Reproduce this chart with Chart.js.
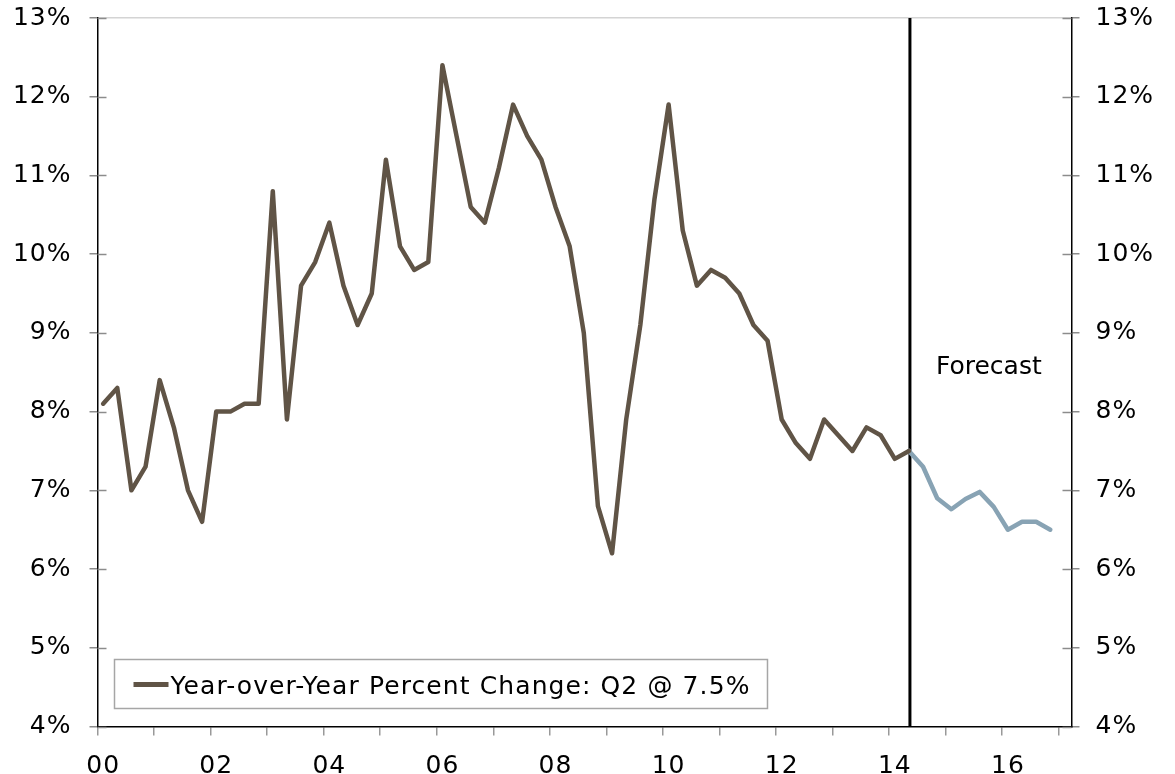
<!DOCTYPE html>
<html>
<head>
<meta charset="utf-8">
<script src="https://cdn.jsdelivr.net/npm/chart.js@4.4.0/dist/chart.umd.min.js"></script>
<style>
  html, body { margin: 0; padding: 0; background: #fff; }
  #wrap { width: 1175px; height: 774px; position: relative; }
</style>
</head>
<body>
<div id="wrap"><canvas id="yoyChart"></canvas></div>
<script>
// quarterly, 2000 Q1 .. 2014 Q2 actual, 2014 Q3 .. 2016 Q4 forecast
const actualValues = [
    8.1, 8.3, 7.0, 7.3, 8.4, 7.8, 7.0, 6.6, 8.0, 8.0, 8.1, 8.1,
    10.8, 7.9, 9.6, 9.9, 10.4, 9.6, 9.1, 9.5, 11.2, 10.1, 9.8, 9.9,
    12.4, 11.5, 10.6, 10.4, 11.1, 11.9, 11.5, 11.2, 10.6, 10.1, 9.0, 6.8,
    6.2, 7.9, 9.1, 10.7, 11.9, 10.3, 9.6, 9.8, 9.7, 9.5, 9.1, 8.9,
    7.9, 7.6, 7.4, 7.9, 7.7, 7.5, 7.8, 7.7, 7.4, 7.5
];
const forecastValues = [7.3, 6.9, 6.76, 6.89, 6.98, 6.79, 6.5, 6.6, 6.6, 6.5];
const yearLabels = ['00', '02', '04', '06', '08', '10', '12', '14', '16'];
const yTickValues = [4, 5, 6, 7, 8, 9, 10, 11, 12, 13];
const legendText = 'Year-over-Year Percent Change: Q2 @ 7.5%';
const forecastText = 'Forecast';

const brown = '#605446';
const blue = '#88a3b4';
const FONT = "'DejaVu Sans', Verdana, sans-serif";

const lastActual = actualValues.length - 1;
const actualPoints = actualValues.map((v, i) => ({ x: i, y: v }));
const forecastPoints = [{ x: lastActual, y: actualValues[lastActual] }]
    .concat(forecastValues.map((v, i) => ({ x: lastActual + 1 + i, y: v })));

// label under Q1 of every second year, tick marks at the year boundaries
const labelAt = {};
yearLabels.forEach((lbl, i) => { labelAt[i * 8] = lbl; });
const boundaryTicks = [];
for (let k = 0; k < 18; k++) boundaryTicks.push(-0.4 + 4 * k);
const isLabelTick = (v) => labelAt[v] !== undefined;

// Verdana is a bit wider than DejaVu Sans, open the text up a little
const spacing = {
    id: 'spacing',
    beforeDraw(chart) { chart.ctx.letterSpacing = '1px'; },
};

const innerTicks = {
    id: 'innerTicks',
    afterDraw(chart) {
        const { ctx } = chart;
        ctx.save();
        ctx.strokeStyle = '#8c8c8c';
        ctx.lineWidth = 1.5;
        ['y', 'y2'].forEach((id) => {
            const s = chart.scales[id];
            const x0 = id === 'y' ? chart.chartArea.left : chart.chartArea.right;
            const dir = id === 'y' ? 1 : -1;
            s.ticks.forEach((t) => {
                const py = Math.round(s.getPixelForValue(t.value)) + 0.5;
                ctx.beginPath();
                ctx.moveTo(x0, py);
                ctx.lineTo(x0 + dir * 9, py);
                ctx.stroke();
            });
        });
        ctx.restore();
    }
};

const forecastMarker = {
    id: 'forecastMarker',
    beforeDatasetsDraw(chart) {
        const { ctx, chartArea } = chart;
        const x = chart.scales.x.getPixelForValue(lastActual) + 1;
        ctx.save();
        ctx.strokeStyle = '#000';
        ctx.lineWidth = 3;
        ctx.beginPath();
        ctx.moveTo(x, chartArea.top);
        ctx.lineTo(x, chartArea.bottom);
        ctx.stroke();
        ctx.fillStyle = '#000';
        ctx.font = '25px ' + FONT;
        ctx.letterSpacing = '0px';
        ctx.textBaseline = 'alphabetic';
        ctx.fillText(forecastText, x + 26, 374);
        ctx.restore();
    }
};

const boxLegend = {
    id: 'boxLegend',
    afterDraw(chart) {
        const { ctx, chartArea } = chart;
        const left = chartArea.left + 17;
        const top = chartArea.bottom - 67;
        ctx.save();
        ctx.font = '25px ' + FONT;
        ctx.letterSpacing = '1.1px';
        const w = ctx.measureText(legendText).width;
        const boxW = 19 + 35 + 3 + w + 16;
        ctx.fillStyle = '#fff';
        ctx.fillRect(left, top, boxW, 49);
        ctx.strokeStyle = '#a6a6a6';
        ctx.lineWidth = 1.5;
        ctx.strokeRect(left, top, boxW, 49);
        ctx.strokeStyle = brown;
        ctx.lineWidth = 5;
        ctx.beginPath();
        ctx.moveTo(left + 19, top + 25);
        ctx.lineTo(left + 54, top + 25);
        ctx.stroke();
        ctx.fillStyle = '#000';
        ctx.textBaseline = 'alphabetic';
        ctx.fillText(legendText, left + 56, top + 34);
        ctx.restore();
    }
};

// keep the plot frame where the reference has it, labels may overhang
const noOverhang = (scale) => {
    scale.paddingTop = 0;
    scale.paddingBottom = 0;
};

new Chart(document.getElementById('yoyChart'), {
    type: 'line',
    data: {
        datasets: [{
            label: legendText,
            data: actualPoints,
            borderColor: brown,
            borderWidth: 4.5,
            borderJoinStyle: 'round',
            borderCapStyle: 'round',
            pointRadius: 0,
            tension: 0,
        }, {
            label: forecastText,
            data: forecastPoints,
            borderColor: blue,
            borderWidth: 4.5,
            borderJoinStyle: 'round',
            borderCapStyle: 'round',
            pointRadius: 0,
            tension: 0,
        }],
    },
    options: {
        responsive: true,
        maintainAspectRatio: false,
        animation: false,
        layout: { padding: { top: 18, left: 0, right: 0, bottom: 0 } },
        plugins: {
            legend: { display: false },
            tooltip: { enabled: false },
        },
        scales: {
            x: {
                type: 'linear',
                min: -0.4,
                max: 68.5,
                afterBuildTicks: (scale) => {
                    scale.ticks = boundaryTicks.concat(Object.keys(labelAt).map(Number))
                        .sort((a, b) => a - b)
                        .map((v) => ({ value: v }));
                },
                afterFit: (scale) => { scale.height = 47.5; },
                border: { color: '#000', width: 1.5 },
                grid: {
                    drawOnChartArea: false,
                    tickLength: 9,
                    lineWidth: 1.5,
                    color: (c) => (c.tick && isLabelTick(c.tick.value) ? 'rgba(0,0,0,0)' : '#999'),
                    tickColor: (c) => (c.tick && isLabelTick(c.tick.value) ? 'rgba(0,0,0,0)' : '#999'),
                },
                ticks: {
                    autoSkip: false,
                    maxRotation: 0,
                    padding: 16,
                    color: '#000',
                    font: { family: FONT, size: 25 },
                    callback: (v) => labelAt[v] || '',
                },
            },
            y: {
                position: 'left',
                min: 4,
                max: 13,
                afterBuildTicks: (scale) => { scale.ticks = yTickValues.map((v) => ({ value: v })); },
                afterFit: (scale) => { scale.width = 97.5; noOverhang(scale); },
                border: { color: '#000', width: 1.5 },
                grid: {
                    tickLength: 8,
                    lineWidth: 1.5,
                    color: (c) => (c.tick && c.tick.value === 13 ? '#d4d4d4' : 'rgba(0,0,0,0)'),
                    tickColor: '#8c8c8c',
                },
                ticks: {
                    padding: 18,
                    color: '#000',
                    font: { family: FONT, size: 25 },
                    callback: (v) => v + '%',
                },
            },
            y2: {
                position: 'right',
                min: 4,
                max: 13,
                afterBuildTicks: (scale) => { scale.ticks = yTickValues.map((v) => ({ value: v })); },
                afterFit: (scale) => { scale.width = 103.5; noOverhang(scale); },
                border: { color: '#000', width: 1.5 },
                grid: {
                    drawOnChartArea: false,
                    tickLength: 8,
                    lineWidth: 1.5,
                    tickColor: '#8c8c8c',
                },
                ticks: {
                    padding: 16,
                    color: '#000',
                    font: { family: FONT, size: 25 },
                    callback: (v) => v + '%',
                },
            },
        },
    },
    plugins: [spacing, innerTicks, forecastMarker, boxLegend],
});
</script>
</body>
</html>
